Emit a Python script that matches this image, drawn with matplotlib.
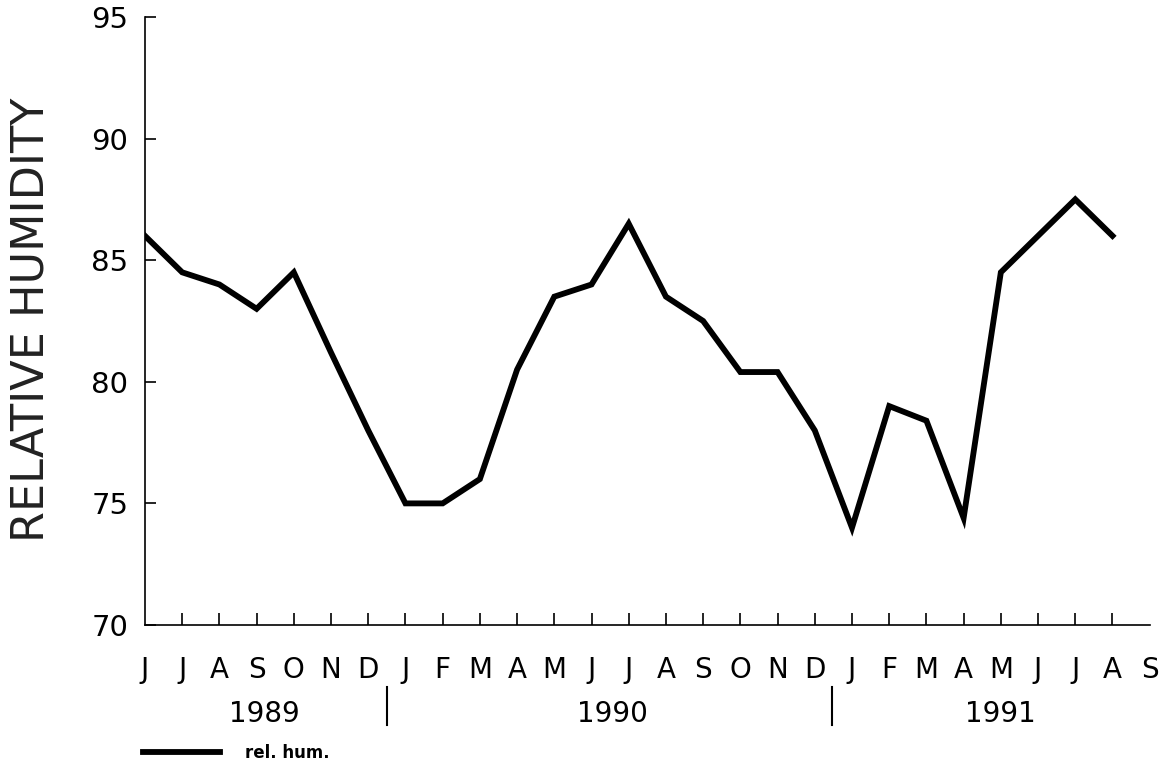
import matplotlib
matplotlib.use("Agg")
import matplotlib.pyplot as plt
import matplotlib.transforms as mtransforms

# monthly relative humidity, June 1989 - August 1991
months = ["J", "J", "A", "S", "O", "N", "D",
          "J", "F", "M", "A", "M", "J", "J", "A", "S", "O", "N", "D",
          "J", "F", "M", "A", "M", "J", "J", "A", "S"]
rel_hum = [86, 84.5, 84, 83, 84.5, 81.2, 78,
           75, 75, 76, 80.5, 83.5, 84, 86.5, 83.5, 82.5, 80.4, 80.4, 78,
           74, 79, 78.4, 74.4, 84.5, 86, 87.5, 86]
years = ["1989", "1990", "1991"]
year_centers = [3.2, 12.55, 23.0]
year_breaks = [6.5, 18.45]

plt.rcParams['font.family'] = ['DejaVu Sans']

fig = plt.figure(figsize=(11.71, 7.70), dpi=100)
ax = fig.add_axes([0.1238, 0.1883, 0.858, 0.7897])

x = list(range(len(rel_hum)))
ax.plot(x, rel_hum, color="black", linewidth=4.2, solid_joinstyle="miter",
        label="rel. hum.")

ax.set_xlim(0, len(months) - 1)
ax.set_ylim(70, 95)

for s in ["top", "right"]:
    ax.spines[s].set_visible(False)
for s in ["left", "bottom"]:
    ax.spines[s].set_linewidth(1.2)

ax.set_yticks(range(70, 96, 5))
ax.tick_params(axis="y", direction="in", length=8, width=1.2, pad=12,
               labelsize=21)

# month labels with inward marks; no marks at the two ends
ax.set_xticks(range(len(months)))
ax.set_xticklabels(months)
ax.tick_params(axis="x", direction="in", length=9, width=1.2, pad=22,
               labelsize=20)
xt = ax.xaxis.get_major_ticks()
xt[0].tick1line.set_visible(False)
xt[-1].tick1line.set_visible(False)

fig.text(31 / 1171, 1 - 320 / 770, "RELATIVE HUMIDITY", rotation=90,
         ha="center", va="center", fontsize=32, color="#222222")

trans = mtransforms.blended_transform_factory(ax.transData, fig.transFigure)
for xc, yr in zip(year_centers, years):
    ax.text(xc, 1 - 714 / 770, yr, transform=trans, ha="center", va="center",
            fontsize=20, clip_on=False)
for xb in year_breaks:
    ax.plot([xb, xb], [1 - 687 / 770, 1 - 725 / 770], transform=trans,
            color="black", linewidth=1.5, clip_on=False)

ax.legend(loc="center left", bbox_to_anchor=(143 / 1171, 1 - 753 / 770),
          bbox_transform=fig.transFigure, frameon=False, borderpad=0,
          borderaxespad=0, handlelength=4.6, handletextpad=1.5,
          prop={"size": 12, "weight": "bold"})

fig.savefig("out.png", dpi=100, facecolor="white")
